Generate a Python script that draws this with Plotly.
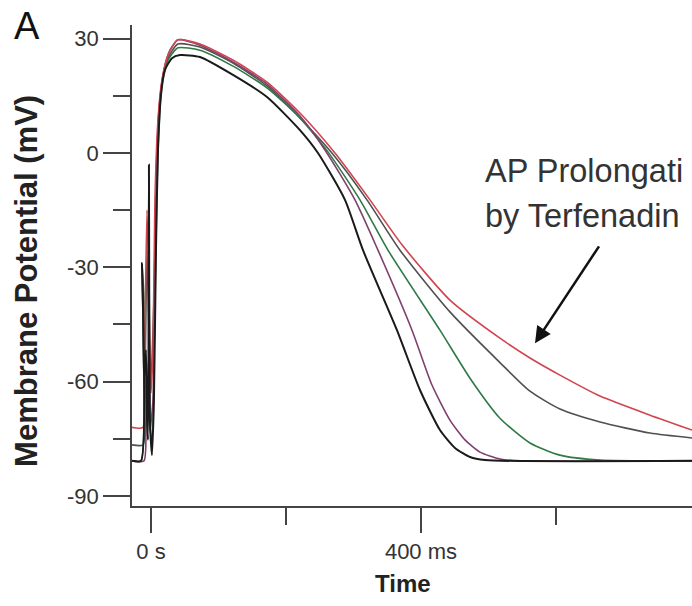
import plotly.graph_objects as go

# Time (ms) and membrane potential (mV)
black_t = [-28.1, -14.8, -13.3, -11.9, -10.4, -7.4, -5.9, -4.4, -3.0, -1.5, 1.5, 4.4, 7.4, 10.4, 14.8, 20.7, 31.1, 43.0, 72.6, 121.5, 171.9, 220.7, 247.4, 287.4, 314.1, 364.4, 398.5, 428.1, 450.4, 472.6, 494.8, 801.5]
black_v = [-80.8, -80.8, -28.9, -38.6, -59.6, -51.7, -70.1, -75.3, -3.1, -70.1, -79.3, -64.8, -25.5, 0.8, 15.2, 21.8, 24.9, 25.7, 25.2, 20.5, 14.7, 6.0, 0.0, -12.3, -25.5, -46.5, -62.2, -72.7, -77.4, -79.8, -80.6, -80.8]

purple_t = [-28.1, -10.4, -7.4, -4.4, -1.5, 3.0, 7.4, 11.9, 19.3, 28.1, 40.0, 72.6, 121.5, 171.9, 220.7, 257.8, 302.2, 336.3, 386.7, 416.3, 442.9, 465.2, 487.4, 517.0, 546.7, 801.5]
purple_v = [-80.8, -80.8, -70.1, -59.6, -72.7, -64.8, -12.3, 11.3, 21.8, 27.0, 29.7, 28.3, 23.9, 18.1, 9.7, 0.8, -12.3, -25.5, -46.5, -60.9, -70.1, -75.3, -78.5, -80.3, -80.8, -80.8]

green_t = [-28.1, -14.8, -13.3, -10.4, -8.9, -5.9, -3.0, 1.5, 5.9, 10.4, 16.3, 25.2, 40.0, 72.6, 121.5, 171.9, 220.7, 262.2, 309.6, 351.1, 428.1, 472.6, 517.0, 561.5, 605.9, 665.2, 801.5]
green_v = [-80.8, -80.8, -28.9, -38.6, -64.8, -59.6, -70.1, -75.3, -38.6, 0.8, 17.8, 24.4, 27.6, 27.0, 22.8, 17.1, 9.2, 0.3, -12.3, -25.5, -46.5, -59.1, -69.6, -76.1, -79.3, -80.6, -80.8]

dark_t = [-28.1, -11.9, -8.9, -5.9, -3.0, 0.0, 4.4, 8.9, 14.8, 23.7, 40.0, 72.6, 121.5, 171.9, 220.7, 268.1, 320.0, 368.9, 442.9, 517.0, 561.5, 605.9, 665.2, 739.3, 801.5]
dark_v = [-76.6, -76.6, -59.6, -25.5, -46.5, -59.6, -38.6, 0.8, 16.5, 24.4, 28.6, 27.8, 23.6, 17.6, 9.2, 0.0, -12.3, -25.5, -41.7, -55.0, -62.5, -67.2, -70.6, -73.5, -74.8]

red_t = [-28.1, -11.9, -8.9, -5.9, -3.0, 0.0, 3.0, 5.9, 10.4, 16.3, 25.2, 40.0, 72.6, 121.5, 171.9, 220.7, 272.6, 324.4, 371.9, 442.9, 517.0, 561.5, 605.9, 665.2, 739.3, 801.5]
red_v = [-72.0, -72.0, -46.5, -15.0, -38.6, -63.0, -51.7, -12.3, 8.7, 19.2, 25.7, 29.7, 28.6, 24.4, 18.6, 10.5, 0.0, -12.3, -24.1, -38.6, -48.6, -53.8, -58.3, -63.8, -68.8, -72.7]

y_ticks = [-90, -60, -30, 0, 30]
y_ticktext = ["-90", "-60", "-30", "0", "30"]
y_minor = [-75, -45, -15, 15]
x_ticks = [0, 400]
x_ticktext = ["0 s", "400 ms"]
x_minor = [200, 600]

# annotation text as visible in the (cropped) reference
note_lines = ["AP Prolongati", "by Terfenadin"]
arrow_tip = (568.9, -49.9)
arrow_tail = (665.2, -24.1)

FONT = "Liberation Sans, Arial, sans-serif"
TXT = "#333333"

fig = go.Figure()
series = [
    (dark_t, dark_v, "#505050", 1.6),
    (green_t, green_v, "#2f7a45", 1.6),
    (purple_t, purple_v, "#80406f", 1.6),
    (red_t, red_v, "#d0454f", 1.6),
    (black_t, black_v, "#1a1a1a", 2.0),
]
for t, v, c, w in series:
    fig.add_trace(go.Scatter(x=t, y=v, mode="lines",
                             line=dict(color=c, width=w, shape="spline", smoothing=0.6),
                             showlegend=False, hoverinfo="skip"))

axis_common = dict(showline=True, linecolor="#444444", linewidth=1.5, ticks="outside",
                   tickcolor="#444444", tickwidth=1.5, showgrid=False, zeroline=False,
                   tickfont=dict(family=FONT, size=22, color=TXT))

fig.update_xaxes(range=[-28.1, 801.5], tickmode="array", tickvals=x_ticks, ticktext=x_ticktext,
                 ticklen=25,
                 minor=dict(tickmode="array", tickvals=x_minor, ticklen=17, ticks="outside",
                            tickcolor="#444444", tickwidth=1.5, showgrid=False),
                 **axis_common)
fig.update_yaxes(range=[-92.65, 33.6], tickmode="array", tickvals=y_ticks, ticktext=y_ticktext,
                 ticklen=27,
                 minor=dict(tickmode="array", tickvals=y_minor, ticklen=17, ticks="outside",
                            tickcolor="#444444", tickwidth=1.5, showgrid=False),
                 **axis_common)

annotations = [
    dict(text="A", x=-0.214, y=0.998, xref="paper", yref="paper", xanchor="left", yanchor="middle",
         showarrow=False, font=dict(family=FONT, size=38, color="#111111")),
    dict(text="<b>Membrane Potential (mV)</b>", x=-0.1875, y=0.468, xref="paper", yref="paper",
         textangle=-90, xanchor="center", yanchor="middle", showarrow=False,
         font=dict(family=FONT, size=31, color="#222222")),
    dict(text="<b>Time</b>", x=0.484, y=-0.162, xref="paper", yref="paper", xanchor="center",
         yanchor="middle", showarrow=False, font=dict(family=FONT, size=24, color="#222222")),
    dict(text=note_lines[0], x=0.627, y=0.696, xref="paper", yref="paper", xanchor="left",
         yanchor="middle", showarrow=False, font=dict(family=FONT, size=32.5, color=TXT)),
    dict(text=note_lines[1], x=0.627, y=0.603, xref="paper", yref="paper", xanchor="left",
         yanchor="middle", showarrow=False, font=dict(family=FONT, size=32.5, color=TXT)),
    dict(text="", x=arrow_tip[0], y=arrow_tip[1], xref="x", yref="y",
         ax=arrow_tail[0], ay=arrow_tail[1], axref="x", ayref="y",
         showarrow=True, arrowhead=2, arrowsize=1.3, arrowwidth=2.5, arrowcolor="#111111"),
]
fig.update_layout(width=692, height=606, margin=dict(l=132, r=0, t=25, b=100),
                  paper_bgcolor="white", plot_bgcolor="white", annotations=annotations)

fig.write_html("out.html")
